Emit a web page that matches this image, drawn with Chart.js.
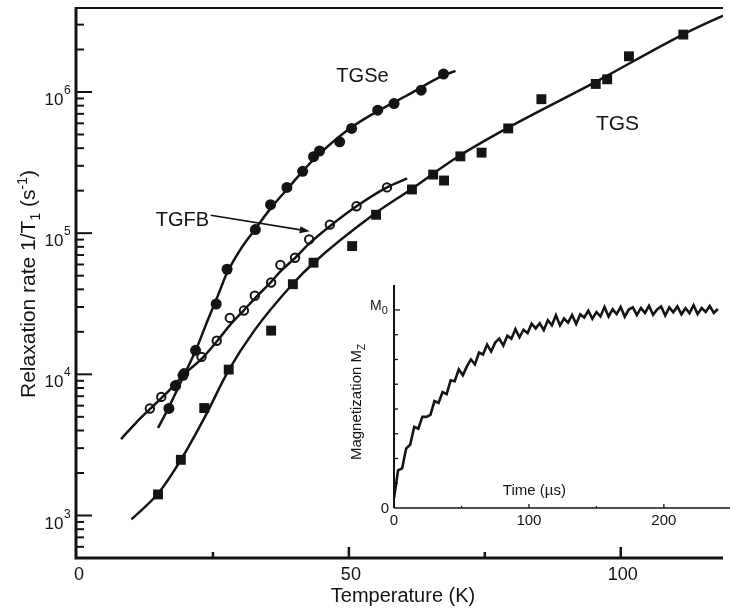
<!DOCTYPE html>
<html>
<head>
<meta charset="utf-8">
<script src="https://cdn.jsdelivr.net/npm/chart.js@4.4.1/dist/chart.umd.min.js"></script>
<style>
  html, body { margin: 0; padding: 0; background: #fff; }
  #wrap { position: relative; width: 730px; height: 616px; }
  #main { position: absolute; left: 0; top: 0; }
  #inset { position: absolute; left: 340px; top: 278px; }
</style>
</head>
<body>
<div id="wrap">
  <canvas id="main" width="730" height="616"></canvas>
  <canvas id="inset" width="390" height="255"></canvas>
</div>
<script>
// ---- main plot data (temperature in K, rate 1/T1 in s^-1) ----
const tgsT = [14.9, 19.1, 23.4, 27.9, 35.7, 39.7, 43.5, 50.6, 55.0, 61.6, 65.5, 67.5, 70.5, 74.4, 79.3, 85.4, 95.4, 97.5, 101.5, 111.5];
const tgsRate = [1410, 2480, 5770, 10800, 20400, 43500, 61800, 81000, 135000, 204000, 260000, 236000, 350000, 372000, 552000, 889000, 1140000, 1230000, 1790000, 2550000];

const tgseT = [16.9, 18.1, 19.5, 21.8, 25.6, 27.6, 32.8, 35.6, 38.6, 41.5, 43.5, 44.6, 48.3, 50.5, 55.3, 58.3, 63.3, 67.4];
const tgseRate = [5730, 8300, 9840, 14800, 31500, 55500, 106000, 159000, 211000, 274000, 348000, 382000, 444000, 552000, 743000, 828000, 1030000, 1340000];

const tgfbT = [13.4, 15.5, 18.2, 19.7, 22.9, 25.7, 28.1, 30.7, 32.7, 35.7, 37.4, 40.1, 42.7, 46.5, 51.4, 57.0];
const tgfbRate = [5730, 6920, 8370, 10200, 13300, 17300, 25100, 28300, 36000, 44700, 59600, 67000, 90300, 115000, 155000, 211000];

// fitted curves
const tgsFitT = [10.0, 14.9, 19.1, 23.5, 27.9, 32.6, 39.7, 43.5, 54.6, 61.4, 70.1, 79.2, 95.4, 111.5, 118.8];
const tgsFitRate = [938, 1430, 2480, 4980, 10700, 20400, 43800, 61500, 136000, 204000, 349000, 557000, 1180000, 2560000, 3480000];

const tgseFitT = [14.9, 16.9, 19.5, 21.9, 24.0, 25.9, 27.5, 30.1, 32.8, 35.5, 38.6, 43.5, 50.1, 55.4, 60.5, 67.2, 69.6];
const tgseFitRate = [4170, 5860, 9530, 15000, 24000, 36000, 51400, 77100, 107000, 148000, 204000, 332000, 549000, 735000, 937000, 1300000, 1410000];

const tgfbFitT = [8.1, 10.8, 13.4, 15.5, 17.7, 19.5, 23.0, 25.7, 28.2, 30.6, 32.8, 35.7, 37.5, 40.1, 42.6, 46.5, 51.4, 57.0, 60.7];
const tgfbFitRate = [3480, 4520, 5670, 6780, 8230, 9840, 12970, 17070, 22500, 28200, 34800, 45200, 54000, 66700, 83700, 112000, 155000, 211000, 244000];

const xTicksMajor = [0, 50, 100];
const xTicksMinor = [25, 75];
const yDecades = [1e3, 1e4, 1e5, 1e6];
const yDecadeExp = ['3', '4', '5', '6'];

// ---- inset data: magnetization recovery (units of M0), sampled every 3 us ----
const inStep = 3;
const inMag = [0.05, 0.19, 0.20, 0.30, 0.32, 0.41, 0.40, 0.46, 0.46, 0.47, 0.54, 0.53, 0.585, 0.575, 0.645, 0.64,
  0.70, 0.67, 0.715, 0.75, 0.725, 0.785, 0.775, 0.825, 0.79, 0.835, 0.855, 0.82, 0.87, 0.855, 0.903, 0.862,
  0.90, 0.883, 0.931, 0.907, 0.933, 0.898, 0.948, 0.923, 0.973, 0.922, 0.957, 0.936, 0.975, 0.929, 0.978,
  0.962, 0.996, 0.955, 0.989, 0.967, 1.015, 0.967, 1.003, 0.979, 1.015, 0.966, 1.002, 1.013, 0.974, 1.01,
  0.985, 1.021, 0.976, 1.002, 1.017, 0.972, 1.013, 0.988, 1.018, 0.978, 1.009, 0.984, 1.024, 0.979, 1.01,
  0.99, 1.02, 0.985, 1.005];
const inXTicks = [0, 100, 200];
const inXMinor = [50, 150];
const inYTicks = [0.125, 0.25, 0.375, 0.5, 0.625, 0.75, 0.875];

const FONT = "'Liberation Sans', Arial, Helvetica, sans-serif";
const INK = '#141414';

const xy = (xs, ys) => xs.map((x, i) => ({ x, y: ys[i] }));

// draw a run of text pieces (sub/superscripts) centred on x
function richText(ctx, parts, x, y, rot) {
    ctx.save();
    ctx.translate(x, y);
    if (rot) ctx.rotate(rot);
    ctx.textAlign = 'left';
    ctx.textBaseline = 'alphabetic';
    let w = 0;
    parts.forEach(p => { ctx.font = p.size + 'px ' + FONT; p.w = ctx.measureText(p.t).width; w += p.w; });
    let cx = -w / 2;
    parts.forEach(p => {
        ctx.font = p.size + 'px ' + FONT;
        ctx.fillText(p.t, cx, p.dy || 0);
        cx += p.w;
    });
    ctx.restore();
}

const mainAxes = {
    id: 'mainAxes',
    afterDraw(chart) {
        const { ctx, chartArea: a, scales: { x, y } } = chart;
        ctx.save();
        ctx.strokeStyle = INK;
        ctx.fillStyle = INK;

        // frame: left, bottom, top (right side is cut off)
        ctx.lineWidth = 3;
        ctx.beginPath();
        ctx.moveTo(a.left - 1, a.top);
        ctx.lineTo(a.left - 1, a.bottom);
        ctx.lineTo(a.right, a.bottom);
        ctx.stroke();
        ctx.lineWidth = 2;
        ctx.beginPath();
        ctx.moveTo(a.left - 2, a.top + 1);
        ctx.lineTo(a.right, a.top + 1);
        ctx.stroke();

        // y ticks, pointing inwards
        ctx.lineWidth = 2;
        yDecades.forEach((d, i) => {
            const py = y.getPixelForValue(d);
            ctx.beginPath();
            ctx.moveTo(a.left, py);
            ctx.lineTo(a.left + 15, py);
            ctx.stroke();
            richText(ctx, [{ t: '10', size: 17 }], a.left - 23, py + 13);
            ctx.font = '12px ' + FONT;
            ctx.textAlign = 'left';
            ctx.fillText(yDecadeExp[i], a.left - 13, py + 2);
        });
        [100, 1000, 10000, 100000, 1000000].forEach(d => {
            for (let m = 2; m <= 9; m++) {
                const v = d * m;
                if (v < y.min || v >= y.max) continue;
                const py = y.getPixelForValue(v);
                ctx.beginPath();
                ctx.moveTo(a.left, py);
                ctx.lineTo(a.left + 7, py);
                ctx.stroke();
            }
        });

        // x ticks, pointing up
        ctx.lineWidth = 2.5;
        xTicksMajor.forEach(v => {
            const px = x.getPixelForValue(v);
            if (v > 0) {
                ctx.beginPath();
                ctx.moveTo(px, a.bottom);
                ctx.lineTo(px, a.bottom - 11);
                ctx.stroke();
            }
            richText(ctx, [{ t: String(v), size: 18 }], px + 2, a.bottom + 22);
        });
        xTicksMinor.forEach(v => {
            const px = x.getPixelForValue(v);
            ctx.beginPath();
            ctx.moveTo(px, a.bottom);
            ctx.lineTo(px, a.bottom - 6);
            ctx.stroke();
        });

        // axis titles
        richText(ctx, [{ t: 'Temperature (K)', size: 20 }], (a.left + a.right) / 2 + 3, 602);
        richText(ctx, [
            { t: 'Relaxation rate 1/T', size: 21 },
            { t: '1', size: 14, dy: 5 },
            { t: ' (s', size: 21 },
            { t: '-1', size: 14, dy: -8 },
            { t: ')', size: 21 }
        ], 35, 284, -Math.PI / 2);

        // series labels and arrow, placed in data coordinates
        richText(ctx, [{ t: 'TGSe', size: 20 }], x.getPixelForValue(52.5), y.getPixelForValue(1.31e6) + 7);
        richText(ctx, [{ t: 'TGS', size: 21 }], x.getPixelForValue(99.4), y.getPixelForValue(6.15e5) + 8);
        richText(ctx, [{ t: 'TGFB', size: 20 }], x.getPixelForValue(19.4), y.getPixelForValue(1.256e5) + 7);

        const ax0 = x.getPixelForValue(24.6), ay0 = y.getPixelForValue(1.34e5);
        const ax1 = x.getPixelForValue(42.8), ay1 = y.getPixelForValue(1.03e5);
        const ang = Math.atan2(ay1 - ay0, ax1 - ax0);
        ctx.lineWidth = 1.6;
        ctx.beginPath();
        ctx.moveTo(ax0, ay0);
        ctx.lineTo(ax1 - 6 * Math.cos(ang), ay1 - 6 * Math.sin(ang));
        ctx.stroke();
        ctx.beginPath();
        ctx.moveTo(ax1, ay1);
        ctx.lineTo(ax1 - 10 * Math.cos(ang) + 3.5 * Math.sin(ang), ay1 - 10 * Math.sin(ang) - 3.5 * Math.cos(ang));
        ctx.lineTo(ax1 - 10 * Math.cos(ang) - 3.5 * Math.sin(ang), ay1 - 10 * Math.sin(ang) + 3.5 * Math.cos(ang));
        ctx.closePath();
        ctx.fill();
        ctx.restore();
    }
};

const fitStyle = {
    showLine: true,
    pointRadius: 0,
    borderColor: INK,
    borderWidth: 2.5,
    cubicInterpolationMode: 'monotone',
    fill: false
};

new Chart(document.getElementById('main'), {
    type: 'scatter',
    data: {
        datasets: [
            { label: 'TGS fit', data: xy(tgsFitT, tgsFitRate), ...fitStyle },
            { label: 'TGSe fit', data: xy(tgseFitT, tgseFitRate), ...fitStyle },
            { label: 'TGFB fit', data: xy(tgfbFitT, tgfbFitRate), ...fitStyle },
            {
                label: 'TGS', data: xy(tgsT, tgsRate),
                pointStyle: 'rect', pointRadius: 7, backgroundColor: INK, borderWidth: 0
            },
            {
                label: 'TGSe', data: xy(tgseT, tgseRate),
                pointStyle: 'circle', pointRadius: 5.5, backgroundColor: INK, borderWidth: 0
            },
            {
                label: 'TGFB', data: xy(tgfbT, tgfbRate),
                pointStyle: 'circle', pointRadius: 4.2, backgroundColor: '#fff', borderColor: INK, borderWidth: 2
            }
        ]
    },
    options: {
        responsive: false,
        animation: false,
        events: [],
        layout: { padding: { left: 77, top: 4, right: 0, bottom: 58 } },
        plugins: { legend: { display: false }, tooltip: { enabled: false } },
        scales: {
            x: { type: 'linear', min: 0, max: 118.8, display: false },
            y: { type: 'logarithmic', min: 500, max: 4e6, display: false }
        }
    },
    plugins: [mainAxes]
});

const insetAxes = {
    id: 'insetAxes',
    afterDraw(chart) {
        const { ctx, chartArea: a, scales: { x, y } } = chart;
        ctx.save();
        ctx.strokeStyle = INK;
        ctx.fillStyle = INK;
        ctx.lineWidth = 2;
        ctx.beginPath();
        ctx.moveTo(a.left, a.top);
        ctx.lineTo(a.left, a.bottom);
        ctx.stroke();
        ctx.lineWidth = 1.5;
        ctx.beginPath();
        ctx.moveTo(a.left, a.bottom);
        ctx.lineTo(a.right, a.bottom);
        ctx.stroke();

        ctx.lineWidth = 1.3;
        inYTicks.forEach(v => {
            const py = y.getPixelForValue(v);
            ctx.beginPath();
            ctx.moveTo(a.left, py);
            ctx.lineTo(a.left + 4, py);
            ctx.stroke();
        });
        const pm = y.getPixelForValue(1);
        ctx.beginPath();
        ctx.moveTo(a.left, pm);
        ctx.lineTo(a.left + 6, pm);
        ctx.stroke();

        inXTicks.forEach(v => {
            const px = x.getPixelForValue(v);
            ctx.beginPath();
            ctx.moveTo(px, a.bottom);
            ctx.lineTo(px, a.bottom - 4);
            ctx.stroke();
            richText(ctx, [{ t: String(v), size: 15 }], px, a.bottom + 17);
        });
        inXMinor.forEach(v => {
            const px = x.getPixelForValue(v);
            ctx.beginPath();
            ctx.moveTo(px, a.bottom);
            ctx.lineTo(px, a.bottom - 2);
            ctx.stroke();
        });

        richText(ctx, [{ t: '0', size: 15 }], a.left - 9, a.bottom + 5);
        richText(ctx, [{ t: 'M', size: 14 }, { t: '0', size: 11, dy: 4 }], a.left - 15, pm);
        richText(ctx, [{ t: 'Time (\u00b5s)', size: 15 }], x.getPixelForValue(104), a.bottom - 13);
        richText(ctx, [
            { t: 'Magnetization M', size: 15 },
            { t: 'Z', size: 10, dy: 4 }
        ], 21, 124, -Math.PI / 2);
        ctx.restore();
    }
};

new Chart(document.getElementById('inset'), {
    type: 'line',
    data: {
        datasets: [{
            data: inMag.map((m, i) => ({ x: i * inStep, y: m })),
            borderColor: INK,
            borderWidth: 2.6,
            borderJoinStyle: 'miter',
            pointRadius: 0,
            tension: 0,
            fill: false
        }]
    },
    options: {
        responsive: false,
        animation: false,
        events: [],
        layout: { padding: { left: 54, top: 7, right: 0, bottom: 25 } },
        plugins: { legend: { display: false }, tooltip: { enabled: false } },
        scales: {
            x: { type: 'linear', min: 0, max: 249, display: false },
            y: { type: 'linear', min: 0, max: 1.126, display: false }
        }
    },
    plugins: [insetAxes]
});
</script>
</body>
</html>
